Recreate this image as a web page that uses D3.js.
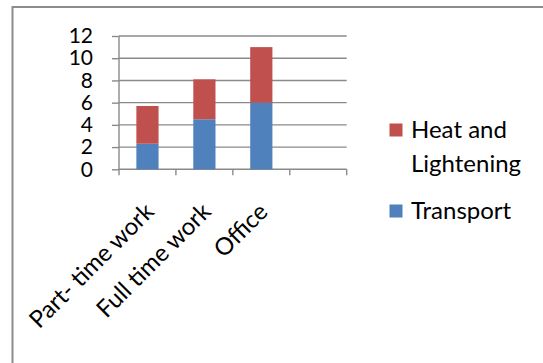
<!DOCTYPE html>
<html>
<head>
<meta charset="utf-8">
<script src="https://cdn.jsdelivr.net/npm/d3@7/dist/d3.min.js"></script>
<style>
  html, body { margin: 0; padding: 0; background: #fff; }
  svg { display: block; font-family: Lato, "Open Sans", sans-serif; }
</style>
</head>
<body>
<svg id="chart" width="543" height="363"></svg>
<script>
// Categories (the fourth slot is left empty on the axis)
const categories = ["Part- time work", "Full time work", "Office", ""];
// Stacked series values, bottom to top
const transport = [2.3, 4.5, 6.0, null];
const heatAndLightening = [3.4, 3.6, 5.0, null];
const yTicks = [0, 2, 4, 6, 8, 10, 12];
const seriesNames = ["Transport", "Heat and Lightening"];
const seriesColors = ["#4F81BD", "#C0504D"];

const svg = d3.select("#chart");

// Outer chart frame
svg.append("rect")
  .attr("x", 12.5).attr("y", 7)
  .attr("width", 560).attr("height", 400)
  .attr("fill", "none").attr("stroke", "#8c8c8c").attr("stroke-width", 2);

const plot = { left: 119, right: 346.7, top: 36, bottom: 169.3 };

const x = d3.scaleBand().domain(categories)
  .range([plot.left, plot.right]).paddingInner(0).paddingOuter(0);
const y = d3.scaleLinear().domain([0, 12]).range([plot.bottom, plot.top]);

const gridColor = "#8a8a8a";

// Horizontal gridlines
svg.append("g").selectAll("line").data(yTicks).join("line")
  .attr("x1", plot.left).attr("x2", plot.right)
  .attr("y1", d => y(d)).attr("y2", d => y(d))
  .attr("stroke", gridColor).attr("stroke-width", 1.4);

// Y axis
const yAxis = d3.axisLeft(y).tickValues(yTicks).tickSize(7).tickPadding(19)
  .tickFormat(d3.format("d"));
const gy = svg.append("g").attr("transform", `translate(${plot.left},0)`).call(yAxis);
gy.select(".domain").attr("stroke", gridColor).attr("stroke-width", 1.4)
  .attr("d", `M0,${plot.top}V${plot.bottom}`);
gy.selectAll(".tick line").attr("stroke", gridColor).attr("stroke-width", 1.4);
gy.selectAll(".tick text").attr("fill", "#000")
  .style("font-size", "21px").style("font-family", "Lato, sans-serif");

// X axis: tick marks at category boundaries
const boundaries = categories.map(c => x(c)).concat([plot.right]);
svg.append("g").selectAll("line").data(boundaries).join("line")
  .attr("x1", d => d).attr("x2", d => d)
  .attr("y1", plot.bottom).attr("y2", plot.bottom + 6)
  .attr("stroke", gridColor).attr("stroke-width", 1.4);

// Stacked bars
const rows = categories.map((c, i) => ({ cat: c, Transport: transport[i], "Heat and Lightening": heatAndLightening[i] }))
  .filter(r => r.Transport != null);
const stack = d3.stack().keys(seriesNames)(rows);
const barW = x.bandwidth() * 0.39;
const color = d3.scaleOrdinal().domain(seriesNames).range(seriesColors);

svg.append("g").selectAll("g").data(stack).join("g")
  .attr("fill", d => color(d.key))
  .selectAll("rect").data(d => d).join("rect")
  .attr("x", d => x(d.data.cat) + x.bandwidth() / 2 - barW / 2)
  .attr("y", d => y(d[1]))
  .attr("width", barW)
  .attr("height", d => y(d[0]) - y(d[1]));

// Category labels, rotated
svg.append("g").selectAll("text").data(categories.filter(c => c)).join("text")
  .attr("transform", d => `translate(${x(d) + x.bandwidth() / 2 + 2},${plot.bottom + 38}) rotate(-45)`)
  .attr("text-anchor", "end")
  .attr("dy", "0.35em")
  .style("font-size", "24px")
  .text(d => d);

// Legend
const legendItems = [
  { name: "Heat and Lightening", lines: ["Heat and", "Lightening"], color: seriesColors[1], y: 123.5 },
  { name: "Transport", lines: ["Transport"], color: seriesColors[0], y: 204.5 }
];
const lg = svg.append("g");
legendItems.forEach(item => {
  lg.append("rect").attr("x", 389.5).attr("y", item.y)
    .attr("width", 13).attr("height", 13).attr("fill", item.color);
  const t = lg.append("text").attr("x", 411).attr("y", item.y + 14)
    .style("font-size", "24px");
  item.lines.forEach((l, i) => t.append("tspan").attr("x", 411).attr("dy", i ? 34 : 0).text(l));
});
</script>
</body>
</html>
